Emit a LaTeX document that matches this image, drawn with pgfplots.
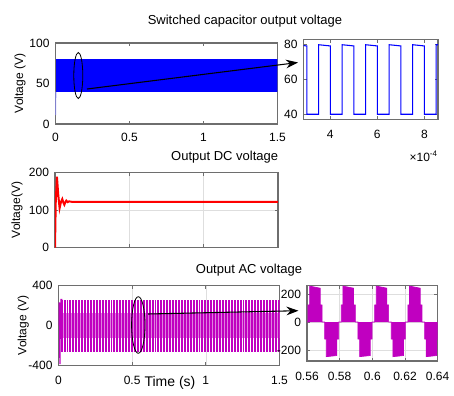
\documentclass[border=0pt]{standalone}
\usepackage{pgfplots}
\pgfplotsset{compat=1.18}
\usepackage{fontspec}
\setmainfont{Liberation Sans}
\usetikzlibrary{arrows.meta, patterns.meta}

\definecolor{framegray}{RGB}{110,110,110}
\definecolor{gridgray}{RGB}{222,222,222}
\definecolor{acmag}{RGB}{192,0,192}

\pgfplotsset{
  matlab/.style={
    scale only axis, anchor=south west,
    axis line style={framegray, line width=0.9pt},
    tick style={framegray, line width=0.6pt},
    major tick length=2.5pt,
    tick align=inside,
    font=\fontsize{9}{10}\selectfont,
    /pgf/number format/assume math mode=true,
    ticklabel style={black, font=\fontsize{9}{10}\selectfont},
    yticklabel style={xshift=-1pt},
    label style={font=\fontsize{9.75}{11}\selectfont},
    every axis y label/.style={rotate=90, anchor=center},
    grid style={gridgray, line width=0.5pt},
  },
}

\begin{document}
\begin{tikzpicture}
\path[use as bounding box] (0,0) rectangle (340.5pt,-297pt);
\begin{scope}[x=0.75pt,y=-0.75pt]
  \coordinate (A1) at (55.5,124);
  \coordinate (A2) at (303.5,119.5);
  \coordinate (A3) at (55,247.5);
  \coordinate (A4) at (58.5,365.5);
  \coordinate (A5) at (307,361);
\end{scope}

% switched capacitor output voltage, full run
\begin{axis}[matlab, at={(A1)}, width=166.5pt, height=60.75pt,
  xmin=0, xmax=1.5, ymin=0, ymax=100,
  xtick={0,0.5,1,1.5}, ytick={0,50,100},
  xticklabel style={yshift=-3.5pt},
  ylabel={Voltage (V)}, ylabel style={at={(axis description cs:-0.16,0.5)}}]
\addplot[blue!45, line width=0.8pt] coordinates {(0,11)(0.002,40)};
\addplot[draw=blue, fill=blue] coordinates {(0.004,40)(1.5,40)(1.5,80)(0.004,80)};
\end{axis}

% zoom, time in 1e-4 s
\begin{axis}[matlab, at={(A2)}, width=100.875pt, height=60pt,
  xmin=2.86, xmax=8.58, ymin=37, ymax=83,
  xtick={4,6,8}, ytick={40,60,80},
  xticklabel style={yshift=-4.5pt}]
\addplot[blue, line width=0.8pt] coordinates {
(2.86,79.5)(3.0,79.3)(3.0,40)(3.5,40)(3.5,80)(4.0,79.3)(4.0,40)(4.5,40)
(4.5,80)(5.0,79.3)(5.0,40)(5.5,40)(5.5,80)(6.0,79.3)(6.0,40)(6.5,40)
(6.5,80)(7.0,79.3)(7.0,40)(7.5,40)(7.5,80)(8.0,79.3)(8.0,40)(8.5,40)
(8.5,80)(8.58,80)};
\end{axis}

% output DC voltage
\begin{axis}[matlab, at={(A3)}, width=167.25pt, height=56.25pt,
  xmin=0, xmax=1.5, ymin=0, ymax=200,
  xtick={0,0.5,1,1.5}, xticklabels={}, ytick={0,100,200}, grid=major,
  ylabel={Voltage(V)}, ylabel style={at={(axis description cs:-0.17,0.5)}}]
\addplot[red, line width=1.5pt] coordinates {
(0,0)(0.005,120)(0.013,189)(0.022,140)(0.031,105)(0.040,121)(0.049,129)
(0.056,120)(0.063,114)(0.070,121)(0.076,125)(0.085,121)(0.095,123)
(0.11,122)(0.3,122)(0.6,122)(1.0,122)(1.5,122)};
\end{axis}

% output AC voltage, full run (envelope of the dense 50 Hz waveform)
\begin{axis}[matlab, at={(A4)}, width=165.75pt, height=60pt,
  xmin=0, xmax=1.5, ymin=-400, ymax=400,
  xtick={0,0.5,1,1.5}, ytick={-400,0,400}, grid=major,
  xticklabel style={yshift=-4.5pt},
  ylabel={Voltage (V)}, ylabel style={at={(axis description cs:-0.159,0.5)}}]
\addplot[draw=none, pattern={Lines[angle=90, distance=2.2pt, line width=1.45pt]}, pattern color=acmag]
  coordinates {(0.012,-255)(1.5,-255)(1.5,250)(0.012,250)};
\addplot[draw=none, fill=acmag!50!white] coordinates {(0.012,-122)(1.5,-122)(1.5,122)(0.012,122)};
\addplot[draw=none, pattern={Lines[angle=90, distance=2.2pt, line width=1.45pt]}, pattern color=acmag]
  coordinates {(0.012,-122)(1.5,-122)(1.5,122)(0.012,122)};
\addplot[acmag, line width=0.8pt] coordinates {
(0,0)(0.002,225)(0.006,225)(0.007,0)(0.009,-380)(0.011,-380)(0.012,0)
(0.016,262)(0.022,262)(0.023,0)};
\end{axis}

% zoom of AC voltage
\begin{axis}[matlab, at={(A5)}, width=98pt, height=56.5pt,
  xmin=0.56, xmax=0.64, ymin=-278, ymax=259,
  xtick={0.56,0.58,0.6,0.62,0.64}, xticklabels={0.56,0.58,0.6,0.62,0.64},
  ytick={-200,0,200}, grid=major,
  xticklabel style={yshift=-4.5pt}]
\addplot[draw=acmag, fill=acmag, line width=0.5pt] coordinates {
(0.5600,0)
(0.5606,0)(0.5606,122)(0.5616,122)(0.5616,256)(0.5681,241)(0.5681,122)(0.5692,122)(0.5692,0)
(0.5708,0)(0.5708,-122)(0.5718,-122)(0.5718,-247)(0.5783,-239)(0.5783,-122)(0.5794,-122)(0.5794,0)
(0.5810,0)(0.5810,122)(0.5820,122)(0.5820,256)(0.5885,241)(0.5885,122)(0.5896,122)(0.5896,0)
(0.5912,0)(0.5912,-122)(0.5922,-122)(0.5922,-247)(0.5987,-239)(0.5987,-122)(0.5998,-122)(0.5998,0)
(0.6014,0)(0.6014,122)(0.6024,122)(0.6024,256)(0.6089,241)(0.6089,122)(0.6100,122)(0.6100,0)
(0.6116,0)(0.6116,-122)(0.6126,-122)(0.6126,-247)(0.6191,-239)(0.6191,-122)(0.6202,-122)(0.6202,0)
(0.6218,0)(0.6218,122)(0.6228,122)(0.6228,256)(0.6293,241)(0.6293,122)(0.6304,122)(0.6304,0)
(0.6320,0)(0.6320,-122)(0.6330,-122)(0.6330,-247)(0.6395,-239)(0.6395,-122)(0.6406,-122)(0.6406,0)
(0.6410,0)};
\end{axis}

% annotations and titles, in pixel units of the reference
\begin{scope}[x=0.75pt,y=-0.75pt]
  \draw[line width=0.6pt] (78.3,75.5) ellipse (4.5 and 23);
  \draw[-{Stealth[length=9pt,width=6.5pt]}, line width=0.8pt] (87,89) -- (298,62.5);
  \draw[line width=0.6pt] (138.3,325) ellipse (6.7 and 28.3);
  \draw[-{Stealth[length=9pt,width=6.5pt]}, line width=0.8pt] (148,314) -- (298.5,310.7);
  \begin{scope}[font=\fontsize{9.75}{11}\selectfont]
    \node at (245,20.7) {Switched capacitor output voltage};
    \node at (224.7,157.3) {Output DC voltage};
    \node at (249,270) {Output AC voltage};
  \end{scope}
  \node[font=\fontsize{10.5}{12}\selectfont] at (170,383) {Time (s)};
  \node[anchor=east, font=\fontsize{9}{10}\selectfont, inner sep=0pt] at (438,156) {×10\textsuperscript{-4}};
\end{scope}
\end{tikzpicture}
\end{document}
